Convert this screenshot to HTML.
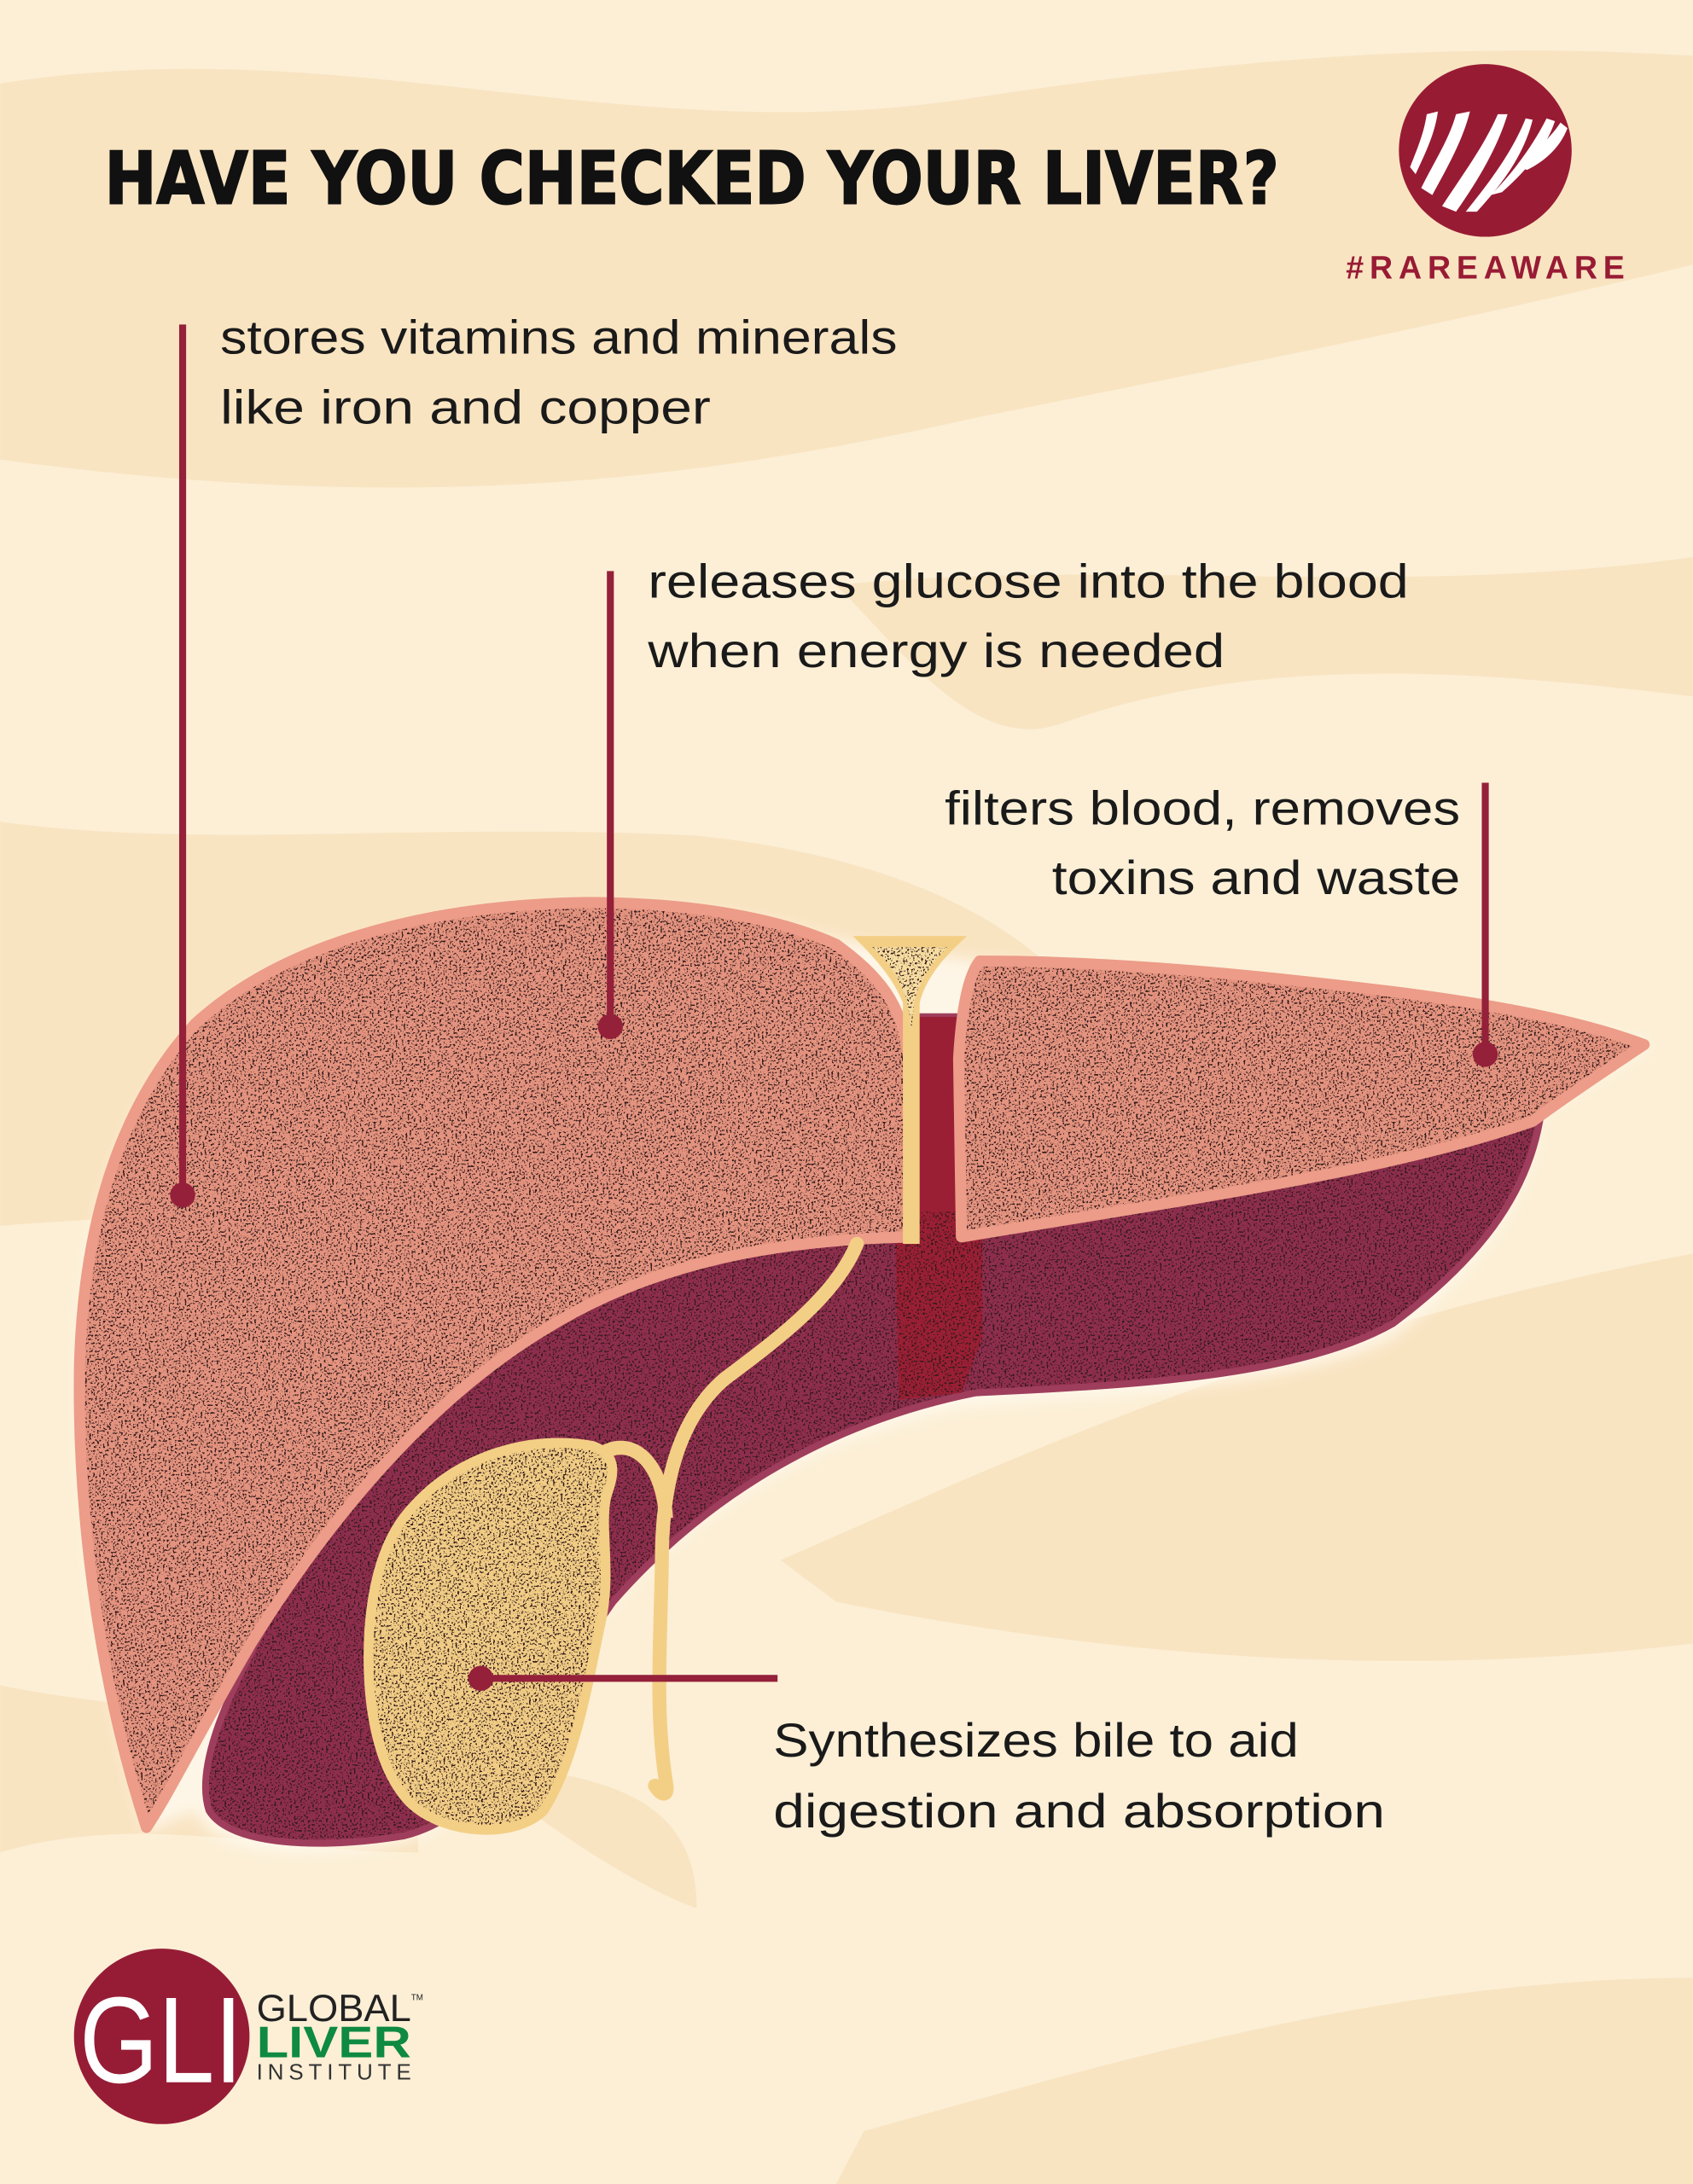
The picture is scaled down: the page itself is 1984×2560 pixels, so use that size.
<!DOCTYPE html>
<html><head><meta charset="utf-8"><style>
html,body{margin:0;padding:0;background:#fcefd6}
svg{display:block}
</style></head><body>
<svg xmlns="http://www.w3.org/2000/svg" width="1984" height="2560" viewBox="0 0 1215 1568">
<defs>
<filter id="g" x="0" y="0" width="100%" height="100%" color-interpolation-filters="sRGB">
<feTurbulence type="fractalNoise" baseFrequency="0.7" numOctaves="2" seed="4" result="n"/>
<feColorMatrix in="n" type="matrix" values="0 0 0 0 0.2  0 0 0 0 0.1  0 0 0 0 0.1  -14 0 0 0 5.9" result="d"/>
<feComposite in="d" in2="SourceGraphic" operator="in" result="d2"/>
<feMerge><feMergeNode in="SourceGraphic"/><feMergeNode in="d2"/></feMerge>
</filter>
<filter id="blur"><feGaussianBlur stdDeviation="5"/></filter>
</defs>
<rect width="1215" height="1568" fill="#fcefd6"/>
<g fill="#f9e4c2">
<path d="M0,60 C250,20 450,110 700,70 C900,40 1050,30 1215,40 L1215,190 C1050,230 900,260 700,300 C500,345 300,370 0,330 Z"/>
<path d="M600,420 C800,400 1000,430 1215,400 L1215,500 C1050,480 900,470 760,520 C700,540 650,470 600,420 Z"/>
<path d="M0,590 C150,610 300,590 500,600 C600,610 700,640 760,700 L700,900 C500,880 250,860 0,880 Z"/>
<path d="M560,1120 C700,1060 900,960 1215,900 L1215,1180 C1050,1200 850,1200 600,1150 Z"/>
<path d="M0,1210 C100,1230 200,1230 300,1240 L300,1330 C200,1330 100,1300 0,1330 Z"/>
<path d="M380,1270 C450,1280 500,1300 500,1370 C470,1360 420,1330 380,1300 Z"/>
<path d="M620,1530 C800,1480 1000,1420 1215,1420 L1215,1568 L600,1568 Z"/>
</g>

<g opacity="0.8" filter="url(#blur)" fill="#fffaf0">
<path d="M1105,800 C1100,860 1060,910 1000,960 C920,1000 780,1000 690,1010 C590,1030 500,1080 430,1160 C380,1230 350,1310 280,1325 C210,1335 150,1330 140,1300 L105,1315 C70,1200 50,1050 60,930 C75,820 120,730 220,690 C330,645 480,640 600,675 L700,690 C850,700 1050,720 1185,750 Z"/>
</g>

<path d="M1105,805 C1095,860 1060,905 1000,950 C930,990 800,995 700,1000 C600,1020 510,1070 440,1150 C390,1220 360,1300 290,1318 C230,1328 165,1325 150,1300 C140,1270 160,1220 200,1150 C260,1050 330,980 420,930 C500,890 580,885 645,880 L645,730 L700,730 L690,880 C850,860 1000,840 1105,805 Z" fill="#8e2e4e" filter="url(#g)"/>
<path d="M1105,805 C1095,860 1060,905 1000,950 C930,990 800,995 700,1000 C600,1020 510,1070 440,1150 C390,1220 360,1300 290,1318 C230,1328 165,1325 150,1300 C140,1270 160,1220 200,1150 C260,1050 330,980 420,930 C500,890 580,885 645,880 L645,730 L700,730 L690,880 C850,860 1000,840 1105,805 Z" fill="none" stroke="#9e3e5c" stroke-width="5"/>

<path d="M642,860 L705,860 L705,960 L690,1000 L645,1005 Z" fill="#9a1f35" filter="url(#g)"/>
<path d="M642,730 L700,730 L698,870 L644,870 Z" fill="#9a1f35"/>

<path d="M105,1312 C75,1220 55,1100 57,980 C60,870 90,790 140,735 C200,680 300,650 420,648 C500,648 560,660 600,678 C630,700 648,720 652,760 L655,888 C560,890 470,905 390,955 C300,1010 230,1100 180,1180 C145,1240 120,1290 105,1312 Z" fill="#e3937f" filter="url(#g)"/>
<path d="M105,1312 C75,1220 55,1100 57,980 C60,870 90,790 140,735 C200,680 300,650 420,648 C500,648 560,660 600,678 C630,700 648,720 652,760 L655,888 C560,890 470,905 390,955 C300,1010 230,1100 180,1180 C145,1240 120,1290 105,1312 Z" fill="none" stroke="#ec9c88" stroke-width="8" stroke-linejoin="round"/>

<path d="M703,690 C800,690 900,700 1000,712 C1080,722 1140,735 1180,750 C1150,770 1120,790 1100,805 C1000,840 860,860 690,888 L688,760 C690,725 695,700 703,690 Z" fill="#e3937f" filter="url(#g)"/>
<path d="M703,690 C800,690 900,700 1000,712 C1080,722 1140,735 1180,750 C1150,770 1120,790 1100,805 C1000,840 860,860 690,888 L688,760 C690,725 695,700 703,690 Z" fill="none" stroke="#ec9c88" stroke-width="8" stroke-linejoin="round"/>

<path d="M612,672 L694,672 C680,685 665,700 660,720 L660,893 L648,893 L648,720 C640,700 625,685 612,672 Z" fill="#f3cf86"/>
<path d="M626,680 L680,680 C668,692 659,705 656,720 L654,740 C652,710 640,692 626,680 Z" fill="#f6dca0" filter="url(#g)"/>

<path d="M615,893 C600,930 560,960 520,990 C485,1020 475,1070 475,1120 C474,1180 470,1230 478,1280 C480,1290 475,1290 470,1282" fill="none" stroke="#f3cf86" stroke-width="10" stroke-linecap="round"/>
<path d="M430,1045 C450,1030 475,1045 478,1090" fill="none" stroke="#f3cf86" stroke-width="10"/>

<path d="M298,1080 C330,1045 380,1030 425,1038 C445,1045 440,1060 435,1075 C430,1100 440,1130 430,1170 C420,1220 410,1270 390,1300 C370,1320 320,1318 295,1295 C270,1270 262,1220 265,1170 C268,1130 278,1100 298,1080 Z" fill="#f0cc85" filter="url(#g)"/>
<path d="M298,1080 C330,1045 380,1030 425,1038 C445,1045 440,1060 435,1075 C430,1100 440,1130 430,1170 C420,1220 410,1270 390,1300 C370,1320 320,1318 295,1295 C270,1270 262,1220 265,1170 C268,1130 278,1100 298,1080 Z" fill="none" stroke="#f3cf86" stroke-width="7"/>

<g stroke="#94203a" stroke-width="5" fill="none">
<line x1="131" y1="233" x2="131" y2="858"/>
<line x1="438" y1="410" x2="438" y2="737"/>
<line x1="1066" y1="562" x2="1066" y2="757"/>
<line x1="345" y1="1205" x2="558" y2="1205"/>
</g>
<g fill="#94203a">
<circle cx="131" cy="858" r="9"/>
<circle cx="438" cy="737" r="9"/>
<circle cx="1066" cy="757" r="9"/>
<circle cx="345" cy="1205" r="9"/>
</g>

<text x="75" y="146" font-family="DejaVu Sans, sans-serif" font-weight="bold" font-size="52" textLength="843" lengthAdjust="spacingAndGlyphs" fill="#111" stroke="#111" stroke-width="1.2">HAVE YOU CHECKED YOUR LIVER?</text>

<g font-family="Liberation Sans, sans-serif" font-size="34" fill="#1a1a1a">
<text x="158" y="254" textLength="486" lengthAdjust="spacingAndGlyphs">stores vitamins and minerals</text>
<text x="158" y="304" textLength="352" lengthAdjust="spacingAndGlyphs">like iron and copper</text>
<text x="465" y="429" textLength="546" lengthAdjust="spacingAndGlyphs">releases glucose into the blood</text>
<text x="465" y="479" textLength="414" lengthAdjust="spacingAndGlyphs">when energy is needed</text>
<text x="678" y="592" textLength="370" lengthAdjust="spacingAndGlyphs">filters blood, removes</text>
<text x="755" y="642" textLength="293" lengthAdjust="spacingAndGlyphs">toxins and waste</text>
<text x="555" y="1261" textLength="377" lengthAdjust="spacingAndGlyphs">Synthesizes bile to aid</text>
<text x="555" y="1312" textLength="439" lengthAdjust="spacingAndGlyphs">digestion and absorption</text>
</g>

<circle cx="1066" cy="108" r="62" fill="#981b34"/>
<g fill="#fff">
<path d="M1020,135 C1030,115 1040,100 1045,82 L1055,80 C1050,100 1040,118 1028,140 Z"/>
<path d="M1035,148 C1050,125 1065,105 1075,82 L1082,82 C1075,105 1062,128 1045,152 Z"/>
<path d="M1052,152 C1068,132 1085,110 1095,85 L1100,86 C1094,110 1080,130 1060,152 Z"/>
<path d="M1070,140 C1085,125 1100,105 1110,85 L1116,87 C1110,105 1098,120 1078,138 Z"/>
<path d="M1090,120 C1100,110 1112,100 1120,88 L1125,92 C1120,105 1110,115 1096,122 Z"/>
<path d="M1012,120 C1018,105 1022,95 1024,82 L1032,80 C1030,95 1024,108 1016,125 Z"/>
</g>
<text x="966" y="200" font-family="Liberation Sans, sans-serif" font-weight="bold" font-size="23" fill="#981b34" textLength="200" lengthAdjust="spacing">#RAREAWARE</text>

<circle cx="116" cy="1462" r="63" fill="#961c36"/>
<text x="57" y="1495" font-family="Liberation Sans, sans-serif" font-size="88" fill="#fff" textLength="117" lengthAdjust="spacingAndGlyphs">GLI</text>
<text x="184" y="1451" font-family="Liberation Sans, sans-serif" font-size="27" fill="#222" textLength="111" lengthAdjust="spacingAndGlyphs">GLOBAL</text>
<text x="295" y="1436" font-family="Liberation Sans, sans-serif" font-size="6" fill="#222">TM</text>
<text x="184" y="1477" font-family="Liberation Sans, sans-serif" font-weight="bold" font-size="32" fill="#0e8a42" textLength="111" lengthAdjust="spacingAndGlyphs">LIVER</text>
<text x="184" y="1493" font-family="Liberation Sans, sans-serif" font-size="16" fill="#333" textLength="111" lengthAdjust="spacing">INSTITUTE</text>
</svg>
</body></html>
